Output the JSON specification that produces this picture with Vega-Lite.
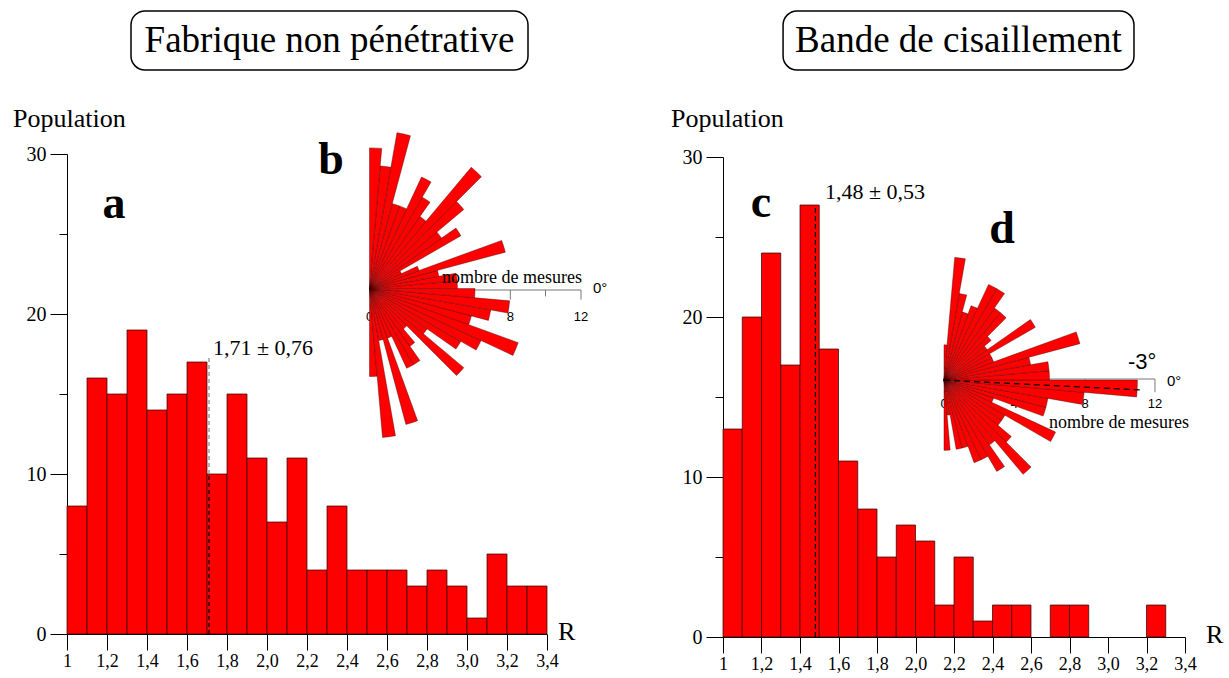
{
  "$schema": "https://vega.github.io/schema/vega-lite/v6.json",
  "background": "white",
  "autosize": {"type": "pad"},
  "padding": {"left": 12, "top": 10, "right": 0, "bottom": 0},
  "spacing": 176,
  "bounds": "flush",
  "config": {
    "view": {"stroke": null},
    "font": "Liberation Serif",
    "axis": {"grid": false, "domainColor": "#000", "domainWidth": 1, "tickColor": "#000", "tickWidth": 1, "labelColor": "#000", "labelFont": "Liberation Serif", "labelOverlap": false, "labelSeparation": 0},
    "text": {"font": "Liberation Serif", "color": "#000"}
  },
  "datasets": {
    "histA": [
      {"lo": 1.0, "hi": 1.1, "n": 8}, {"lo": 1.1, "hi": 1.2, "n": 16}, {"lo": 1.2, "hi": 1.3, "n": 15}, {"lo": 1.3, "hi": 1.4, "n": 19},
      {"lo": 1.4, "hi": 1.5, "n": 14}, {"lo": 1.5, "hi": 1.6, "n": 15}, {"lo": 1.6, "hi": 1.7, "n": 17}, {"lo": 1.7, "hi": 1.8, "n": 10},
      {"lo": 1.8, "hi": 1.9, "n": 15}, {"lo": 1.9, "hi": 2.0, "n": 11}, {"lo": 2.0, "hi": 2.1, "n": 7}, {"lo": 2.1, "hi": 2.2, "n": 11},
      {"lo": 2.2, "hi": 2.3, "n": 4}, {"lo": 2.3, "hi": 2.4, "n": 8}, {"lo": 2.4, "hi": 2.5, "n": 4}, {"lo": 2.5, "hi": 2.6, "n": 4},
      {"lo": 2.6, "hi": 2.7, "n": 4}, {"lo": 2.7, "hi": 2.8, "n": 3}, {"lo": 2.8, "hi": 2.9, "n": 4}, {"lo": 2.9, "hi": 3.0, "n": 3},
      {"lo": 3.0, "hi": 3.1, "n": 1}, {"lo": 3.1, "hi": 3.2, "n": 5}, {"lo": 3.2, "hi": 3.3, "n": 3}, {"lo": 3.3, "hi": 3.4, "n": 3}
    ],
    "histC": [
      {"lo": 1.0, "hi": 1.1, "n": 13}, {"lo": 1.1, "hi": 1.2, "n": 20}, {"lo": 1.2, "hi": 1.3, "n": 24}, {"lo": 1.3, "hi": 1.4, "n": 17},
      {"lo": 1.4, "hi": 1.5, "n": 27}, {"lo": 1.5, "hi": 1.6, "n": 18}, {"lo": 1.6, "hi": 1.7, "n": 11}, {"lo": 1.7, "hi": 1.8, "n": 8},
      {"lo": 1.8, "hi": 1.9, "n": 5}, {"lo": 1.9, "hi": 2.0, "n": 7}, {"lo": 2.0, "hi": 2.1, "n": 6}, {"lo": 2.1, "hi": 2.2, "n": 2},
      {"lo": 2.2, "hi": 2.3, "n": 5}, {"lo": 2.3, "hi": 2.4, "n": 1}, {"lo": 2.4, "hi": 2.5, "n": 2}, {"lo": 2.5, "hi": 2.6, "n": 2},
      {"lo": 2.7, "hi": 2.8, "n": 2}, {"lo": 2.8, "hi": 2.9, "n": 2}, {"lo": 3.2, "hi": 3.3, "n": 2}
    ],
    "roseB": [
      {"a1": -90, "a2": -85, "n": 5}, {"a1": -85, "a2": -80, "n": 8.5}, {"a1": -80, "a2": -75, "n": 3}, {"a1": -75, "a2": -70, "n": 8},
      {"a1": -70, "a2": -65, "n": 3}, {"a1": -65, "a2": -60, "n": 5}, {"a1": -60, "a2": -55, "n": 5}, {"a1": -55, "a2": -50, "n": 4},
      {"a1": -50, "a2": -45, "n": 3}, {"a1": -45, "a2": -40, "n": 7}, {"a1": -40, "a2": -35, "n": 4}, {"a1": -35, "a2": -30, "n": 6},
      {"a1": -30, "a2": -25, "n": 7}, {"a1": -25, "a2": -20, "n": 9}, {"a1": -20, "a2": -15, "n": 6}, {"a1": -15, "a2": -10, "n": 7},
      {"a1": -10, "a2": -5, "n": 8}, {"a1": -5, "a2": 0, "n": 6}, {"a1": 0, "a2": 5, "n": 5}, {"a1": 5, "a2": 10, "n": 5},
      {"a1": 10, "a2": 15, "n": 4}, {"a1": 15, "a2": 20, "n": 8}, {"a1": 20, "a2": 25, "n": 3}, {"a1": 25, "a2": 30, "n": 2},
      {"a1": 30, "a2": 35, "n": 6}, {"a1": 35, "a2": 40, "n": 5}, {"a1": 40, "a2": 45, "n": 7}, {"a1": 45, "a2": 50, "n": 9},
      {"a1": 50, "a2": 55, "n": 5}, {"a1": 55, "a2": 60, "n": 6}, {"a1": 60, "a2": 65, "n": 7}, {"a1": 65, "a2": 70, "n": 5},
      {"a1": 70, "a2": 75, "n": 5}, {"a1": 75, "a2": 80, "n": 9}, {"a1": 80, "a2": 85, "n": 7}, {"a1": 85, "a2": 90, "n": 8}
    ],
    "roseD": [
      {"a1": -90, "a2": -85, "n": 4}, {"a1": -85, "a2": -80, "n": 2}, {"a1": -80, "a2": -75, "n": 4}, {"a1": -75, "a2": -70, "n": 4},
      {"a1": -70, "a2": -65, "n": 5}, {"a1": -65, "a2": -60, "n": 5}, {"a1": -60, "a2": -55, "n": 6}, {"a1": -55, "a2": -50, "n": 4.5},
      {"a1": -50, "a2": -45, "n": 7}, {"a1": -45, "a2": -40, "n": 5}, {"a1": -40, "a2": -35, "n": 4}, {"a1": -35, "a2": -30, "n": 4},
      {"a1": -30, "a2": -25, "n": 7}, {"a1": -25, "a2": -20, "n": 3}, {"a1": -20, "a2": -15, "n": 6}, {"a1": -15, "a2": -10, "n": 6},
      {"a1": -10, "a2": -5, "n": 8}, {"a1": -5, "a2": 0, "n": 11}, {"a1": 0, "a2": 5, "n": 6}, {"a1": 5, "a2": 10, "n": 6},
      {"a1": 10, "a2": 15, "n": 5}, {"a1": 15, "a2": 20, "n": 8}, {"a1": 20, "a2": 25, "n": 3}, {"a1": 25, "a2": 30, "n": 3},
      {"a1": 30, "a2": 35, "n": 6}, {"a1": 35, "a2": 40, "n": 3}, {"a1": 40, "a2": 45, "n": 3.5}, {"a1": 45, "a2": 50, "n": 5},
      {"a1": 50, "a2": 55, "n": 5}, {"a1": 55, "a2": 60, "n": 6}, {"a1": 60, "a2": 65, "n": 6}, {"a1": 65, "a2": 70, "n": 4.5},
      {"a1": 70, "a2": 75, "n": 4}, {"a1": 75, "a2": 80, "n": 5}, {"a1": 80, "a2": 85, "n": 7}, {"a1": 85, "a2": 90, "n": 2}
    ]
  },
  "hconcat": [
    {
      "width": 480,
      "height": 480,
      "layer": [
        {
          "data": {"name": "histA"},
          "mark": {"type": "bar", "fill": "#ff0000", "stroke": "#2a0000", "strokeWidth": 0.7},
          "encoding": {
            "x": {"field": "lo", "type": "quantitative", "title": null,
              "scale": {"domain": [1, 3.4], "nice": false, "zero": false},
              "axis": {"title": null, "values": [1, 1.2, 1.4, 1.6, 1.8, 2, 2.2, 2.4, 2.6, 2.8, 3, 3.2, 3.4], "tickCount": 30, "labelExpr": "datum.value === 1 ? '1' : replace(format(datum.value, '.1f'), '.', ',')", "tickSize": 16, "labelPadding": 2, "labelFontSize": 18, "labelFlush": false, "labelOverlap": false}},
            "x2": {"field": "hi"},
            "y": {"field": "n", "type": "quantitative", "title": null,
              "scale": {"domain": [0, 30], "nice": false},
              "axis": {"title": null, "values": [0, 5, 10, 15, 20, 25, 30], "tickCount": 30, "labelExpr": "datum.value % 10 === 0 ? datum.label : ''", "tickSize": {"condition": {"test": "datum.value % 10 === 0", "value": 17}, "value": 8}, "labelPadding": 4, "labelFontSize": 20}},
            "y2": {"datum": 0}
          }
        },
        {
          "data": {"values": [{}]},
          "mark": {"type": "rect", "fill": "white", "stroke": "#000", "strokeWidth": 1.5, "cornerRadius": 14},
          "encoding": {"x": {"datum": 1.32}, "x2": {"datum": 3.305}, "y": {"datum": 38.94}, "y2": {"datum": 35.25}}
        },
        {
          "data": {"values": [{}]},
          "mark": {"type": "text", "fontSize": 37, "align": "center", "baseline": "middle"},
          "encoding": {"x": {"datum": 2.3125}, "y": {"datum": 37.05}, "text": {"value": "Fabrique non pénétrative"}}
        },
        {
          "data": {"values": [{}]},
          "mark": {"type": "text", "fontSize": 26, "align": "left", "baseline": "middle"},
          "encoding": {"x": {"datum": 0.73}, "y": {"datum": 32.2}, "text": {"value": "Population"}}
        },
        {
          "data": {"values": [{}]},
          "mark": {"type": "text", "fontSize": 26, "align": "left", "baseline": "middle"},
          "encoding": {"x": {"datum": 3.455}, "y": {"datum": 0.1}, "text": {"value": "R"}}
        },
        {
          "data": {"values": [{}]},
          "mark": {"type": "rule", "stroke": "#000", "strokeWidth": 1.2, "strokeDash": [4, 3]},
          "encoding": {"x": {"datum": 1.71}, "y": {"datum": 0}, "y2": {"datum": 10}}
        },
        {
          "data": {"values": [{}]},
          "mark": {"type": "rule", "stroke": "#888", "strokeWidth": 1.2, "strokeDash": [4, 3]},
          "encoding": {"x": {"datum": 1.71}, "y": {"datum": 10}, "y2": {"datum": 17.4}}
        },
        {
          "data": {"values": [{}]},
          "mark": {"type": "text", "fontSize": 22, "align": "left", "baseline": "middle"},
          "encoding": {"x": {"datum": 1.73}, "y": {"datum": 17.875}, "text": {"value": "1,71 ± 0,76"}}
        },
        {
          "data": {"values": [{}]},
          "mark": {"type": "text", "fontSize": 46, "fontWeight": "bold", "align": "center", "baseline": "middle"},
          "encoding": {"x": {"datum": 1.235}, "y": {"datum": 26.9}, "text": {"value": "a"}}
        },
        {
          "data": {"values": [{}]},
          "mark": {"type": "text", "fontSize": 46, "fontWeight": "bold", "align": "center", "baseline": "middle"},
          "encoding": {"x": {"datum": 2.32}, "y": {"datum": 29.6}, "text": {"value": "b"}}
        },
        {
          "data": {"values": [{}]},
          "mark": {"type": "rule", "stroke": "#777", "strokeWidth": 1},
          "encoding": {"x": {"datum": 2.5125}, "x2": {"datum": 3.57}, "y": {"datum": 21.5}}
        },
        {
          "data": {"values": [{}]},
          "mark": {"type": "rule", "stroke": "#777", "strokeWidth": 1},
          "encoding": {"x": {"datum": 3.2165}, "y": {"datum": 21.5}, "y2": {"datum": 20.9}}
        },
        {
          "data": {"values": [{}]},
          "mark": {"type": "rule", "stroke": "#777", "strokeWidth": 1},
          "encoding": {"x": {"datum": 3.3925}, "y": {"datum": 21.5}, "y2": {"datum": 21.1}}
        },
        {
          "data": {"values": [{}]},
          "mark": {"type": "rule", "stroke": "#777", "strokeWidth": 1},
          "encoding": {"x": {"datum": 3.57}, "y": {"datum": 21.5}, "y2": {"datum": 20.9}}
        },
        {
          "data": {"values": [{}]},
          "mark": {"type": "text", "font": "Liberation Sans", "fontSize": 13, "align": "center", "baseline": "middle"},
          "encoding": {"x": {"datum": 2.5125}, "y": {"datum": 19.8}, "text": {"value": "0"}}
        },
        {
          "data": {"values": [{}]},
          "mark": {"type": "text", "font": "Liberation Sans", "fontSize": 13, "align": "center", "baseline": "middle"},
          "encoding": {"x": {"datum": 3.2165}, "y": {"datum": 19.8}, "text": {"value": "8"}}
        },
        {
          "data": {"values": [{}]},
          "mark": {"type": "text", "font": "Liberation Sans", "fontSize": 13, "align": "center", "baseline": "middle"},
          "encoding": {"x": {"datum": 3.57}, "y": {"datum": 19.8}, "text": {"value": "12"}}
        },
        {
          "data": {"name": "roseB"},
          "mark": {"type": "arc", "fill": "#ff0000", "stroke": "#3a0000", "strokeWidth": 0.4},
          "encoding": {
            "x": {"datum": 2.5125},
            "y": {"datum": 21.59},
            "theta": {"field": "a1", "type": "quantitative", "stack": null, "scale": {"domain": [-90, 90], "range": [3.14159, 0]}},
            "theta2": {"field": "a2"},
            "radius": {"field": "n", "type": "quantitative", "scale": {"type": "linear", "domain": [0, 12], "range": [0, 211], "zero": true}}
          }
        },
        {
          "data": {"values": [{}]},
          "mark": {"type": "text", "fontSize": 18, "align": "right", "baseline": "middle"},
          "encoding": {"x": {"datum": 3.575}, "y": {"datum": 22.25}, "text": {"value": "nombre de mesures"}}
        },
        {
          "data": {"values": [{}]},
          "mark": {"type": "text", "font": "Liberation Sans", "fontSize": 15, "align": "left", "baseline": "middle"},
          "encoding": {"x": {"datum": 3.63}, "y": {"datum": 21.6}, "text": {"value": "0°"}}
        }
      ]
    },
    {
      "width": 462,
      "height": 483,
      "layer": [
        {
          "data": {"name": "histC"},
          "mark": {"type": "bar", "fill": "#ff0000", "stroke": "#2a0000", "strokeWidth": 0.7},
          "encoding": {
            "x": {"field": "lo", "type": "quantitative", "title": null,
              "scale": {"domain": [1, 3.4], "nice": false, "zero": false},
              "axis": {"title": null, "values": [1, 1.2, 1.4, 1.6, 1.8, 2, 2.2, 2.4, 2.6, 2.8, 3, 3.2, 3.4], "tickCount": 30, "labelExpr": "datum.value === 1 ? '1' : replace(format(datum.value, '.1f'), '.', ',')", "tickSize": 16, "labelPadding": 2, "labelFontSize": 18, "labelFlush": false, "labelOverlap": false}},
            "x2": {"field": "hi"},
            "y": {"field": "n", "type": "quantitative", "title": null,
              "scale": {"domain": [0, 30], "nice": false, "range": [483, 3]},
              "axis": {"title": null, "values": [0, 5, 10, 15, 20, 25, 30], "tickCount": 30, "labelExpr": "datum.value % 10 === 0 ? datum.label : ''", "tickSize": {"condition": {"test": "datum.value % 10 === 0", "value": 17}, "value": 8}, "labelPadding": 4, "labelFontSize": 20}},
            "y2": {"datum": 0}
          }
        },
        {
          "data": {"values": [{}]},
          "mark": {"type": "rect", "fill": "white", "stroke": "#000", "strokeWidth": 1.5, "cornerRadius": 14},
          "encoding": {"x": {"datum": 1.312}, "x2": {"datum": 3.135}, "y": {"datum": 39.125}, "y2": {"datum": 35.44}}
        },
        {
          "data": {"values": [{}]},
          "mark": {"type": "text", "fontSize": 37, "align": "center", "baseline": "middle"},
          "encoding": {"x": {"datum": 2.223}, "y": {"datum": 37.25}, "text": {"value": "Bande de cisaillement"}}
        },
        {
          "data": {"values": [{}]},
          "mark": {"type": "text", "fontSize": 26, "align": "left", "baseline": "middle"},
          "encoding": {"x": {"datum": 0.73}, "y": {"datum": 32.4}, "text": {"value": "Population"}}
        },
        {
          "data": {"values": [{}]},
          "mark": {"type": "text", "fontSize": 26, "align": "left", "baseline": "middle"},
          "encoding": {"x": {"datum": 3.509}, "y": {"datum": 0.1}, "text": {"value": "R"}}
        },
        {
          "data": {"values": [{}]},
          "mark": {"type": "rule", "stroke": "#000", "strokeWidth": 1.3, "strokeDash": [5, 3]},
          "encoding": {"x": {"datum": 1.48}, "y": {"datum": 0}, "y2": {"datum": 27}}
        },
        {
          "data": {"values": [{}]},
          "mark": {"type": "text", "fontSize": 22, "align": "left", "baseline": "middle"},
          "encoding": {"x": {"datum": 1.53}, "y": {"datum": 27.81}, "text": {"value": "1,48 ± 0,53"}}
        },
        {
          "data": {"values": [{}]},
          "mark": {"type": "text", "fontSize": 46, "fontWeight": "bold", "align": "center", "baseline": "middle"},
          "encoding": {"x": {"datum": 1.197}, "y": {"datum": 27.1}, "text": {"value": "c"}}
        },
        {
          "data": {"values": [{}]},
          "mark": {"type": "text", "fontSize": 46, "fontWeight": "bold", "align": "center", "baseline": "middle"},
          "encoding": {"x": {"datum": 2.449}, "y": {"datum": 25.5}, "text": {"value": "d"}}
        },
        {
          "data": {"values": [{}]},
          "mark": {"type": "rule", "stroke": "#777", "strokeWidth": 1},
          "encoding": {"x": {"datum": 2.148}, "x2": {"datum": 3.244}, "y": {"datum": 16.125}}
        },
        {
          "data": {"values": [{}]},
          "mark": {"type": "rule", "stroke": "#777", "strokeWidth": 1},
          "encoding": {"x": {"datum": 2.514}, "y": {"datum": 16.125}, "y2": {"datum": 15.3}}
        },
        {
          "data": {"values": [{}]},
          "mark": {"type": "rule", "stroke": "#777", "strokeWidth": 1},
          "encoding": {"x": {"datum": 2.881}, "y": {"datum": 16.125}, "y2": {"datum": 15.3}}
        },
        {
          "data": {"values": [{}]},
          "mark": {"type": "rule", "stroke": "#777", "strokeWidth": 1},
          "encoding": {"x": {"datum": 3.244}, "y": {"datum": 16.125}, "y2": {"datum": 15.3}}
        },
        {
          "data": {"values": [{}]},
          "mark": {"type": "text", "font": "Liberation Sans", "fontSize": 13, "align": "center", "baseline": "middle"},
          "encoding": {"x": {"datum": 2.148}, "y": {"datum": 14.55}, "text": {"value": "0"}}
        },
        {
          "data": {"values": [{}]},
          "mark": {"type": "text", "font": "Liberation Sans", "fontSize": 13, "align": "center", "baseline": "middle"},
          "encoding": {"x": {"datum": 2.514}, "y": {"datum": 14.55}, "text": {"value": "4"}}
        },
        {
          "data": {"values": [{}]},
          "mark": {"type": "text", "font": "Liberation Sans", "fontSize": 13, "align": "center", "baseline": "middle"},
          "encoding": {"x": {"datum": 2.881}, "y": {"datum": 14.55}, "text": {"value": "8"}}
        },
        {
          "data": {"values": [{}]},
          "mark": {"type": "text", "font": "Liberation Sans", "fontSize": 13, "align": "center", "baseline": "middle"},
          "encoding": {"x": {"datum": 3.244}, "y": {"datum": 14.55}, "text": {"value": "12"}}
        },
        {
          "data": {"name": "roseD"},
          "mark": {"type": "arc", "fill": "#ff0000", "stroke": "#3a0000", "strokeWidth": 0.4},
          "encoding": {
            "x": {"datum": 2.148},
            "y": {"datum": 16.06},
            "theta": {"field": "a1", "type": "quantitative", "stack": null, "scale": {"domain": [-90, 90], "range": [3.14159, 0]}},
            "theta2": {"field": "a2"},
            "radius": {"field": "n", "type": "quantitative", "scale": {"type": "linear", "domain": [0, 12], "range": [0, 211], "zero": true}}
          }
        },
        {
          "data": {"values": [{}]},
          "mark": {"type": "rule", "stroke": "#000", "strokeWidth": 1.3, "strokeDash": [6, 4]},
          "encoding": {"x": {"datum": 2.148}, "x2": {"datum": 3.171}, "y": {"datum": 16.06}, "y2": {"datum": 15.44}}
        },
        {
          "data": {"values": [{}]},
          "mark": {"type": "text", "font": "Liberation Sans", "fontSize": 22, "align": "center", "baseline": "middle"},
          "encoding": {"x": {"datum": 3.177}, "y": {"datum": 17.19}, "text": {"value": "-3°"}}
        },
        {
          "data": {"values": [{}]},
          "mark": {"type": "text", "font": "Liberation Sans", "fontSize": 15, "align": "left", "baseline": "middle"},
          "encoding": {"x": {"datum": 3.306}, "y": {"datum": 16.0}, "text": {"value": "0°"}}
        },
        {
          "data": {"values": [{}]},
          "mark": {"type": "text", "fontSize": 18, "align": "left", "baseline": "middle"},
          "encoding": {"x": {"datum": 2.694}, "y": {"datum": 13.4}, "text": {"value": "nombre de mesures"}}
        }
      ]
    }
  ]
}
